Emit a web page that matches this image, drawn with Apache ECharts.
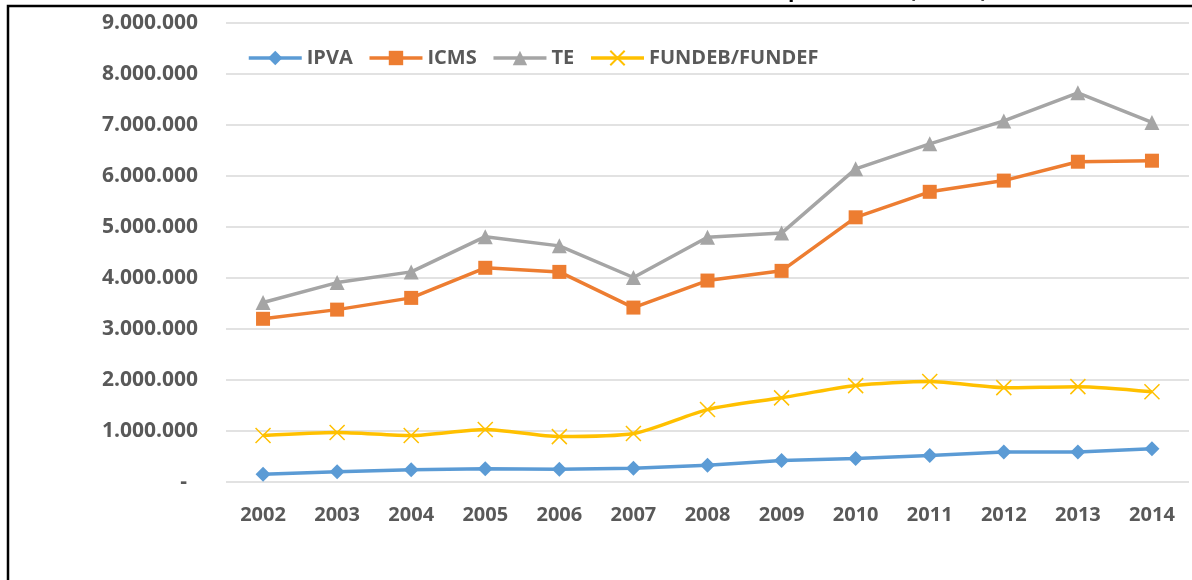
<!DOCTYPE html>
<html>
<head>
<meta charset="utf-8">
<script src="https://cdn.jsdelivr.net/npm/echarts@6/dist/echarts.min.js"></script>
<style>
  html, body { margin: 0; padding: 0; background: #fff; }
  #chart { width: 1192px; height: 580px; }
</style>
</head>
<body>
<div id="chart"></div>
<script>
const years = ["2002", "2003", "2004", "2005", "2006", "2007", "2008", "2009", "2010", "2011", "2012", "2013", "2014"];
const ipva = [150000, 200000, 240000, 260000, 250000, 270000, 330000, 420000, 460000, 520000, 590000, 590000, 650000];
const icms = [3200000, 3380000, 3610000, 4200000, 4120000, 3420000, 3950000, 4140000, 5190000, 5690000, 5910000, 6280000, 6300000];
const te = [3520000, 3910000, 4120000, 4810000, 4630000, 4010000, 4800000, 4880000, 6140000, 6630000, 7080000, 7630000, 7050000];
const fundeb = [910000, 970000, 910000, 1030000, 890000, 950000, 1420000, 1650000, 1890000, 1970000, 1850000, 1870000, 1770000];

const FONT = "'Open Sans', sans-serif";
const TXT = "#595959";

const fmt = v => v === 0 ? "-  " : String(v).replace(/\B(?=(\d{3})+(?!\d))/g, ".");

const chart = echarts.init(document.getElementById("chart"), null, { renderer: "canvas" });

// marcador em X para o FUNDEB
const xMark = "path://M0,0L10,10M10,0L0,10";

const lineSeries = (name, data, color, symbol, size, extra) => Object.assign({
  name,
  type: "line",
  data,
  symbol,
  symbolSize: size,
  showSymbol: true,
  lineStyle: { color, width: 3.5 },
  itemStyle: { color },
  emphasis: { disabled: true },
  z: 3
}, extra || {});

chart.setOption({
  animation: false,
  backgroundColor: "#fff",
  textStyle: { fontFamily: FONT },
  graphic: [
    {
      type: "text",
      x: 612,
      y: -19,
      style: {
        text: "Receitas em valores constantes de 2014, atualizados pelo IGP-DI (R$ mil)",
        font: "bold 21px " + FONT,
        fill: "#000",
        textAlign: "center"
      }
    },
    {
      type: "rect",
      shape: { x: 8, y: 6, width: 1200, height: 600 },
      style: { fill: null, stroke: "#000", lineWidth: 2.5 },
      silent: true
    }
  ],
  legend: {
    left: 247,
    top: 48,
    padding: 0,
    itemWidth: 53,
    itemHeight: 18,
    itemGap: 15,
    lineStyle: { width: 3.5 },
    textStyle: { color: TXT, fontSize: 20, fontWeight: "bold", fontFamily: FONT },
    data: ["IPVA", "ICMS", "TE", "FUNDEB/FUNDEF"]
  },
  grid: { left: 226, right: 3, top: 23, bottom: 98 },
  xAxis: {
    type: "category",
    data: years,
    axisLine: { show: false },
    axisTick: { show: false },
    axisLabel: { color: TXT, fontSize: 20, fontWeight: "bold", fontFamily: FONT, margin: 23 }
  },
  yAxis: {
    type: "value",
    min: 0,
    max: 9000000,
    interval: 1000000,
    axisLine: { show: false },
    axisTick: { show: false },
    splitLine: { lineStyle: { color: "#d9d9d9", width: 1.5 } },
    axisLabel: { color: TXT, fontSize: 21, fontWeight: "bold", fontFamily: FONT, margin: 28, formatter: fmt }
  },
  series: [
    lineSeries("IPVA", ipva, "#5b9bd5", "diamond", 15),
    lineSeries("ICMS", icms, "#ed7d31", "rect", 14),
    lineSeries("TE", te, "#a5a5a5", "triangle", 15),
    lineSeries("FUNDEB/FUNDEF", fundeb, "#ffc000", xMark, 15, {
      smooth: 0.25,
      itemStyle: { color: "none", borderColor: "#ffc000", borderWidth: 1.5 }
    })
  ]
});
</script>
</body>
</html>
